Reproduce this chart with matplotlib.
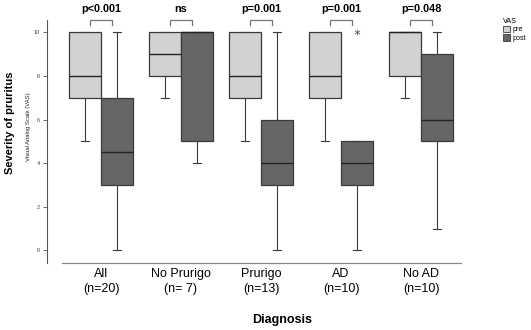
import matplotlib
matplotlib.use("Agg")
import matplotlib.pyplot as plt
from matplotlib.patches import Patch

plt.rcParams["font.family"] = ["Liberation Sans", "DejaVu Sans"]

# data (VAS scores)
groups = ["All\n(n=20)", "No Prurigo\n(n= 7)", "Prurigo\n(n=13)", "AD\n(n=10)", "No AD\n(n=10)"]
p_labels = ["p<0.001", "ns", "p=0.001", "p=0.001", "p=0.048"]

# pre: whisker low, q1, median, q3, whisker high
pre_low = [5, 7, 5, 5, 7]
pre_q1 = [7, 8, 7, 7, 8]
pre_med = [8, 9, 8, 8, 10]
pre_q3 = [10, 10, 10, 10, 10]
pre_high = [10, 10, 10, 10, 10]

post_low = [0, 4, 0, 0, 1]
post_q1 = [3, 5, 3, 3, 5]
post_med = [4.5, 10, 4, 4, 6]
post_q3 = [7, 10, 6, 5, 9]
post_high = [10, 10, 10, 5, 10]
post_fliers = [[], [], [], [10], []]

pre_color = "#d2d2d2"
post_color = "#666666"
edge = "#3a3a3a"

W, H = 531, 330
fig = plt.figure(figsize=(W / 100, H / 100), dpi=100)

# axes placed in pixel terms of the reference
left, right, top, bottom = 47, 461, 20, 262.7
ax = fig.add_axes([left / W, 1 - bottom / H, (right - left) / W, (bottom - top) / H])

px_per_x = 80.0
x0_px = 101.0
ax.set_xlim((left - x0_px) / px_per_x, (right - x0_px) / px_per_x)
zero_px, px_per_y = 250.3, 21.8
ax.set_ylim((zero_px - bottom) / px_per_y, (zero_px - top) / px_per_y)


def stats(low, q1, med, q3, high, fliers=None):
    out = []
    for i in range(len(low)):
        out.append({
            "whislo": low[i], "q1": q1[i], "med": med[i],
            "q3": q3[i], "whishi": high[i],
            "fliers": fliers[i] if fliers else [],
        })
    return out


pos = list(range(len(groups)))
off = 0.2
bw = 0.39

common = dict(
    widths=bw, capwidths=0.1, patch_artist=True, manage_ticks=False,
    whiskerprops=dict(color=edge, linewidth=0.8),
    capprops=dict(color=edge, linewidth=0.8),
    medianprops=dict(color="#222222", linewidth=1.0),
    flierprops=dict(marker="$*$", markersize=4, markeredgecolor="#555555",
                    markerfacecolor="#555555", markeredgewidth=0.1,
                    linestyle="none"),
)

ax.bxp(stats(pre_low, pre_q1, pre_med, pre_q3, pre_high),
       positions=[p - off for p in pos],
       boxprops=dict(facecolor=pre_color, edgecolor=edge, linewidth=0.9), **common)
ax.bxp(stats(post_low, post_q1, post_med, post_q3, post_high, post_fliers),
       positions=[p + off for p in pos],
       boxprops=dict(facecolor=post_color, edgecolor=edge, linewidth=0.9), **common)

# significance brackets and labels
y_top = (zero_px - 20) / px_per_y
y_end = (zero_px - 24.5) / px_per_y
y_txt = (zero_px - 9) / px_per_y
for p, lab in zip(pos, p_labels):
    ax.plot([p - 0.14, p - 0.14, p + 0.14, p + 0.14], [y_end, y_top, y_top, y_end],
            color="#777777", linewidth=0.9, clip_on=False, solid_joinstyle="round")
    ax.text(p, y_txt, lab, ha="center", va="center", fontsize=7.8,
            fontweight="bold", clip_on=False)

# spines in SPSS style
for s in ["top", "right"]:
    ax.spines[s].set_visible(False)
ax.spines["left"].set_color("#555555")
ax.spines["left"].set_linewidth(0.8)
ax.spines["bottom"].set_color("#888888")
ax.spines["bottom"].set_linewidth(0.9)
ax.spines["bottom"].set_bounds((62 - x0_px) / px_per_x, (right - x0_px) / px_per_x)

ax.set_yticks([0, 2, 4, 6, 8, 10])
ax.set_yticklabels(["0", "2", "4", "6", "8", "10"])
ax.tick_params(axis="y", labelsize=4, length=3, width=0.6, color="#555555",
               labelcolor="#444444", pad=2)
ax.set_xticks(pos)
ax.set_xticklabels(groups, fontsize=9, linespacing=1.3)
ax.tick_params(axis="x", length=0, pad=4)

fig.text(10 / W, 1 - 123 / H, "Severity of pruritus", rotation=90, ha="center",
         va="center", fontsize=8, fontweight="bold")
fig.text(29 / W, 1 - 127 / H, "Visual Analog Scale (VAS)", rotation=90,
         ha="center", va="center", fontsize=4.2, color="#222222")
fig.text(282 / W, 1 - 320 / H, "Diagnosis", ha="center", va="center",
         fontsize=9, fontweight="bold")

handles = [Patch(facecolor=pre_color, edgecolor=edge, linewidth=0.6, label="pre"),
           Patch(facecolor=post_color, edgecolor=edge, linewidth=0.6, label="post")]
leg = fig.legend(handles=handles, title="VAS", loc="upper left",
                 bbox_to_anchor=(503 / W, 1 - 18 / H), frameon=False,
                 fontsize=5.2, title_fontsize=5.2, handlelength=1.0,
                 handleheight=1.0, handletextpad=0.25, labelspacing=0.1,
                 borderpad=0.0, borderaxespad=0)
leg._legend_box.align = "left"

fig.savefig("out.png", dpi=100)
